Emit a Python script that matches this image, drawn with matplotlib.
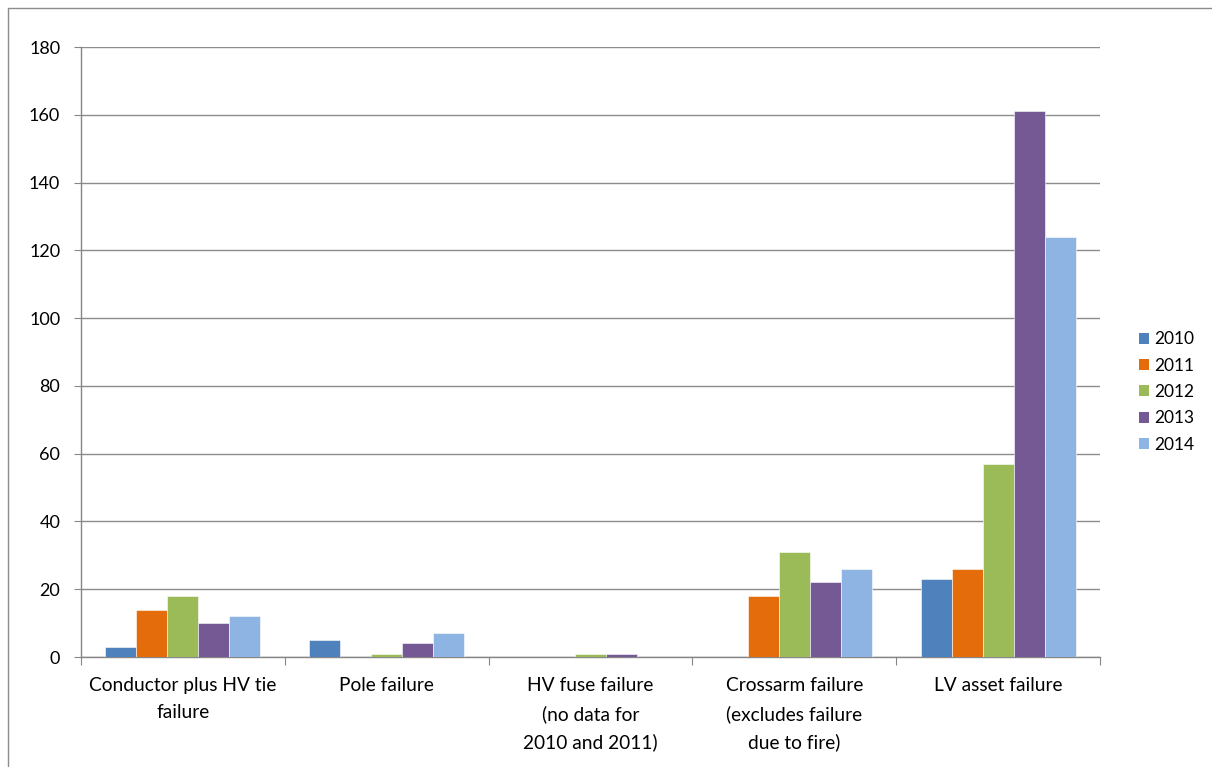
import matplotlib
matplotlib.use("Agg")
import matplotlib.pyplot as plt
from matplotlib.lines import Line2D
from matplotlib.patches import Patch
import numpy as np

plt.rcParams['font.family'] = ['Lato', 'DejaVu Sans']

categories = [
    "Conductor plus HV tie\nfailure",
    "Pole failure",
    "HV fuse failure\n(no data for\n2010 and 2011)",
    "Crossarm failure\n(excludes failure\ndue to fire)",
    "LV asset failure",
]
years = ["2010", "2011", "2012", "2013", "2014"]
values_2010 = [3, 5, 0, 0, 23]
values_2011 = [14, 0, 0, 18, 26]
values_2012 = [18, 1, 1, 31, 57]
values_2013 = [10, 4, 1, 22, 161]
values_2014 = [12, 7, 0, 26, 124]
series = [values_2010, values_2011, values_2012, values_2013, values_2014]
colors = ["#4F81BD", "#E46C0A", "#9BBB59", "#755994", "#8EB4E3"]

W, H = 1212, 767
fig = plt.figure(figsize=(W / 100, H / 100), dpi=100)
ax = fig.add_axes([81 / W, 1 - 657 / H, (1100 - 81) / W, (657 - 47) / H])

n = len(series)
bar_w = 0.152
x = np.arange(len(categories))
for i, (vals, col) in enumerate(zip(series, colors)):
    offs = (i - (n - 1) / 2) * bar_w
    ax.bar(x + offs, vals, width=bar_w, color=col, edgecolor="white",
           linewidth=0.4, zorder=3)

ax.set_xlim(-0.5, len(categories) - 0.5)
ax.set_ylim(0, 180)
ax.set_yticks(range(0, 181, 20))
ax.tick_params(axis='y', labelsize=13, length=5, color="#868686", pad=10)
ax.grid(axis='y', color="#8C8C8C", linewidth=1.0, zorder=0)

# category boundary ticks on x axis, labels at group centres
ax.set_xticks(np.arange(-0.5, len(categories) + 0.5, 1.0))
ax.set_xticklabels([])
ax.tick_params(axis='x', length=6, color="#868686")
for xi, lab in zip(x, categories):
    ax.text(xi, -0.033, lab, transform=ax.get_xaxis_transform(),
            ha='center', va='top', fontsize=13.8, linespacing=1.72)

for side in ["top", "right"]:
    ax.spines[side].set_visible(False)
for side in ["left", "bottom"]:
    ax.spines[side].set_color("#868686")
    ax.spines[side].set_linewidth(1.0)

handles = [Patch(facecolor=c, edgecolor="none") for c in colors]
fig.legend(handles, years, loc='center left',
           bbox_to_anchor=(1123 / W, 1 - 392 / H), frameon=False,
           fontsize=12.5, handlelength=0.6, handleheight=0.6,
           handletextpad=0.3, labelspacing=0.6)

# chart area border
fig.add_artist(Line2D([8 / W, 8 / W, 1.0], [0.0, 1 - 8 / H, 1 - 8 / H],
                      color="#8C8C8C", linewidth=1.0))

fig.savefig("out.png", dpi=100)
